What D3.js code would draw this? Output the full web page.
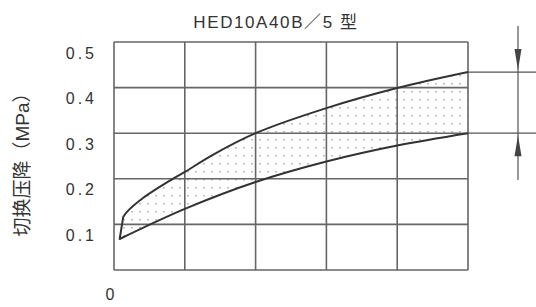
<!DOCTYPE html>
<html>
<head>
<meta charset="utf-8">
<script src="https://cdn.jsdelivr.net/npm/d3@7"></script>
<style>
  html, body { margin: 0; padding: 0; background: #fff; }
  svg { display: block; }
  text { font-family: "Liberation Sans", "Noto Sans CJK SC", sans-serif; fill: #333; }
</style>
</head>
<body>
<script>
const title = "HED10A40B／5 型";
const yLabel = "切换压降（MPa）";
const yTicks = [0.1, 0.2, 0.3, 0.4, 0.5];
const xGrid = [0, 1, 2, 3, 4, 5];
const yGrid = [0, 0.1, 0.2, 0.3, 0.4, 0.5];

// upper and lower boundary of the switching pressure band (grid units, MPa)
const upperCurve = [
  [0.13, 0.116], [0.18, 0.127], [0.41, 0.158], [0.83, 0.2], [1, 0.215],
  [1.39, 0.252], [2, 0.3], [3, 0.355], [4, 0.399], [5, 0.434]
];
const lowerCurve = [
  [0.08, 0.068], [1, 0.134], [2, 0.193], [3, 0.238], [4, 0.273], [5, 0.3]
];

const width = 536, height = 307;
const margin = { top: 42, right: 68, bottom: 37, left: 114 };

const x = d3.scaleLinear().domain([0, 5]).range([margin.left, width - margin.right]);
const y = d3.scaleLinear().domain([0, 0.5]).range([height - margin.bottom, margin.top]);

const svg = d3.select("body").append("svg")
  .attr("width", width)
  .attr("height", height);

const defs = svg.append("defs");
const pat = defs.append("pattern")
  .attr("id", "dots")
  .attr("patternUnits", "userSpaceOnUse")
  .attr("width", 8)
  .attr("height", 8);
pat.append("rect")
  .attr("x", 3).attr("y", 3)
  .attr("width", 2).attr("height", 1.5)
  .attr("fill", "#bdbdbd");

// band: smooth lower edge, then back along the smooth upper edge
const curve = d3.line()
  .x(d => x(d[0]))
  .y(d => y(d[1]))
  .curve(d3.curveCatmullRom.alpha(0.5));

const bandPath = curve(lowerCurve) +
  curve(upperCurve.slice().reverse()).replace(/^M/, "L") + "Z";

svg.append("path")
  .attr("d", bandPath)
  .attr("fill", "url(#dots)");

// grid
svg.append("g")
  .selectAll("line")
  .data(xGrid)
  .join("line")
  .attr("x1", d => x(d)).attr("x2", d => x(d))
  .attr("y1", y(0)).attr("y2", y(0.5))
  .attr("stroke", "#666")
  .attr("stroke-width", 1.6);

svg.append("g")
  .selectAll("line")
  .data(yGrid)
  .join("line")
  .attr("x1", x(0)).attr("x2", x(5))
  .attr("y1", d => y(d)).attr("y2", d => y(d))
  .attr("stroke", "#666")
  .attr("stroke-width", 1.6);

// band outline (left end joined, right end sits on the frame)
svg.append("path")
  .attr("d", curve(upperCurve.slice().reverse()) +
    curve(lowerCurve).replace(/^M/, "L"))
  .attr("fill", "none")
  .attr("stroke", "#333")
  .attr("stroke-width", 2)
  .attr("stroke-linejoin", "round");

// range annotation on the right
const yHi = y(upperCurve[upperCurve.length - 1][1]);
const yLo = y(lowerCurve[lowerCurve.length - 1][1]);
const xArrow = x(5) + 50;

svg.selectAll(".ext")
  .data([yHi, yLo])
  .join("line")
  .attr("class", "ext")
  .attr("x1", x(5)).attr("x2", width)
  .attr("y1", d => d).attr("y2", d => d)
  .attr("stroke", "#555")
  .attr("stroke-width", 1.2);

svg.append("line")
  .attr("x1", xArrow).attr("x2", xArrow)
  .attr("y1", 26).attr("y2", 180)
  .attr("stroke", "#555")
  .attr("stroke-width", 1.2);

// arrowheads pointing at the two limits
const head = (tipY, dir) =>
  `M${xArrow},${tipY}L${xArrow - 3.5},${tipY - dir * 21}L${xArrow + 3.5},${tipY - dir * 21}Z`;
svg.append("path").attr("d", head(yHi - 2, 1)).attr("fill", "#444");
svg.append("path").attr("d", head(yLo + 2, -1)).attr("fill", "#444");

// tick labels (they sit a little below their grid line in the original)
svg.append("g")
  .selectAll("text")
  .data(yTicks)
  .join("text")
  .attr("x", 97)
  .attr("y", d => y(d) + 11)
  .attr("dy", "0.35em")
  .attr("text-anchor", "end")
  .attr("font-size", 16)
  .attr("letter-spacing", 3)
  .text(d => d3.format(".1f")(d));

svg.append("text")
  .attr("x", 110)
  .attr("y", 294)
  .attr("dy", "0.35em")
  .attr("text-anchor", "middle")
  .attr("font-size", 16)
  .text("0");

// title
svg.append("text")
  .attr("x", 276)
  .attr("y", 28)
  .attr("text-anchor", "middle")
  .attr("font-size", 17)
  .attr("letter-spacing", 1.6)
  .text(title);

// y axis label
svg.append("text")
  .attr("transform", `translate(22,${160}) rotate(-90)`)
  .attr("dy", "0.35em")
  .attr("text-anchor", "middle")
  .attr("font-size", 19)
  .text(yLabel);
</script>
</body>
</html>
